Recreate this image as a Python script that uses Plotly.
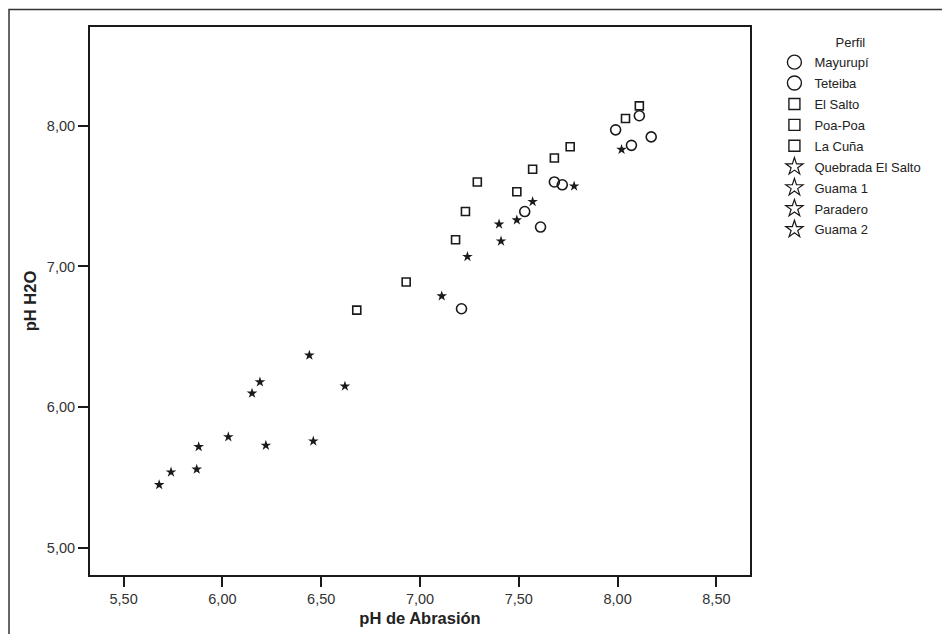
import plotly.graph_objects as go

# ---- data ----
series_names = ["Mayurupí", "Teteiba", "El Salto", "Poa-Poa", "La Cuña",
                "Quebrada El Salto", "Guama 1", "Paradero", "Guama 2"]

mayurupi_x = [7.99, 8.11, 8.17, 8.07]
mayurupi_y = [7.97, 8.07, 7.92, 7.86]
teteiba_x = [7.68, 7.72, 7.53, 7.61, 7.21]
teteiba_y = [7.60, 7.58, 7.39, 7.28, 6.70]

elsalto_x = [8.11, 8.04, 7.76, 7.68]
elsalto_y = [8.14, 8.05, 7.85, 7.77]
poapoa_x = [7.57, 7.29, 7.49, 7.23]
poapoa_y = [7.69, 7.60, 7.53, 7.39]
lacuna_x = [7.18, 6.93, 6.68]
lacuna_y = [7.19, 6.89, 6.69]

quebrada_x = [8.02, 7.78, 7.57, 7.49]
quebrada_y = [7.83, 7.57, 7.46, 7.33]
guama1_x = [7.40, 7.41, 7.24, 7.11]
guama1_y = [7.30, 7.18, 7.07, 6.79]
paradero_x = [6.62, 6.44, 6.19, 6.15, 6.03]
paradero_y = [6.15, 6.37, 6.18, 6.10, 5.79]
guama2_x = [5.88, 6.22, 6.46, 5.87, 5.74, 5.68]
guama2_y = [5.72, 5.73, 5.76, 5.56, 5.54, 5.45]

x_ticks = [5.5, 6.0, 6.5, 7.0, 7.5, 8.0, 8.5]
y_ticks = [5.0, 6.0, 7.0, 8.0]

xs = [mayurupi_x, teteiba_x, elsalto_x, poapoa_x, lacuna_x,
      quebrada_x, guama1_x, paradero_x, guama2_x]
ys = [mayurupi_y, teteiba_y, elsalto_y, poapoa_y, lacuna_y,
      quebrada_y, guama1_y, paradero_y, guama2_y]

INK = "#1a1a1a"
styles = {
    "circle": dict(symbol="circle-open", size=10, lsize=14),
    "square": dict(symbol="square-open", size=8, lsize=11),
    "star": dict(symbol="star", size=8, lsize=13),
}
kinds = ["circle", "circle", "square", "square", "square",
         "star", "star", "star", "star"]

fig = go.Figure()
for name, x, y, kind in zip(series_names, xs, ys, kinds):
    st = styles[kind]
    if kind == "star":
        mk = dict(symbol="star", size=st["size"], color=INK, line=dict(width=0))
        lmk = dict(symbol="star-open", size=st["lsize"],
                   color=INK, line=dict(width=1.2, color=INK))
    else:
        mk = dict(symbol=st["symbol"], size=st["size"], color=INK,
                  line=dict(width=1.6, color=INK))
        lmk = dict(symbol=st["symbol"], size=st["lsize"], color=INK,
                   line=dict(width=1.4, color=INK))
    fig.add_trace(go.Scatter(x=x, y=y, mode="markers", name=name, legendgroup=name,
                             showlegend=False, marker=mk, hoverinfo="x+y+name"))
    fig.add_trace(go.Scatter(x=[None], y=[None], mode="markers", name=name,
                             legendgroup=name, showlegend=True, marker=lmk))

axis_common = dict(
    showgrid=False, zeroline=False, showline=True, linewidth=2, linecolor=INK,
    mirror=True, ticks="outside", ticklen=10, tickwidth=2, tickcolor=INK,
    tickformat=".2f", automargin=False,
    tickfont=dict(family="Liberation Sans, Arial", size=14.5, color="#333333"),
    title_font=dict(family="Liberation Sans, Arial", size=16.5, color="#222222"),
)

fig.update_xaxes(range=[5.33, 8.67], tickvals=x_ticks,
                 title=dict(text="<b>pH de Abrasión</b>", standoff=6), **axis_common)
fig.update_yaxes(range=[4.81, 8.70], tickvals=y_ticks,
                 title=dict(text="<b>pH H2O</b>", standoff=6), **axis_common)

fig.update_layout(
    width=950, height=634,
    margin=dict(l=82, r=208, t=19, b=67),
    paper_bgcolor="white", plot_bgcolor="white",
    separators=",.",
    font=dict(family="Liberation Sans, Arial", color="#222222"),
    legend=dict(
        title=dict(text="Perfil", side="top center", font=dict(size=13)),
        x=1.037, xanchor="left", y=0.994, yanchor="top",
        font=dict(size=13, color="#222222"),
        bgcolor="rgba(0,0,0,0)", itemwidth=30, tracegroupgap=1,
    ),
    shapes=[dict(type="rect", xref="paper", yref="paper",
                 x0=-0.1227, x1=1.3, y0=-0.2, y1=1.0318,
                 line=dict(color="#333333", width=1.5), layer="below")],
)

fig.write_html("out.html")
